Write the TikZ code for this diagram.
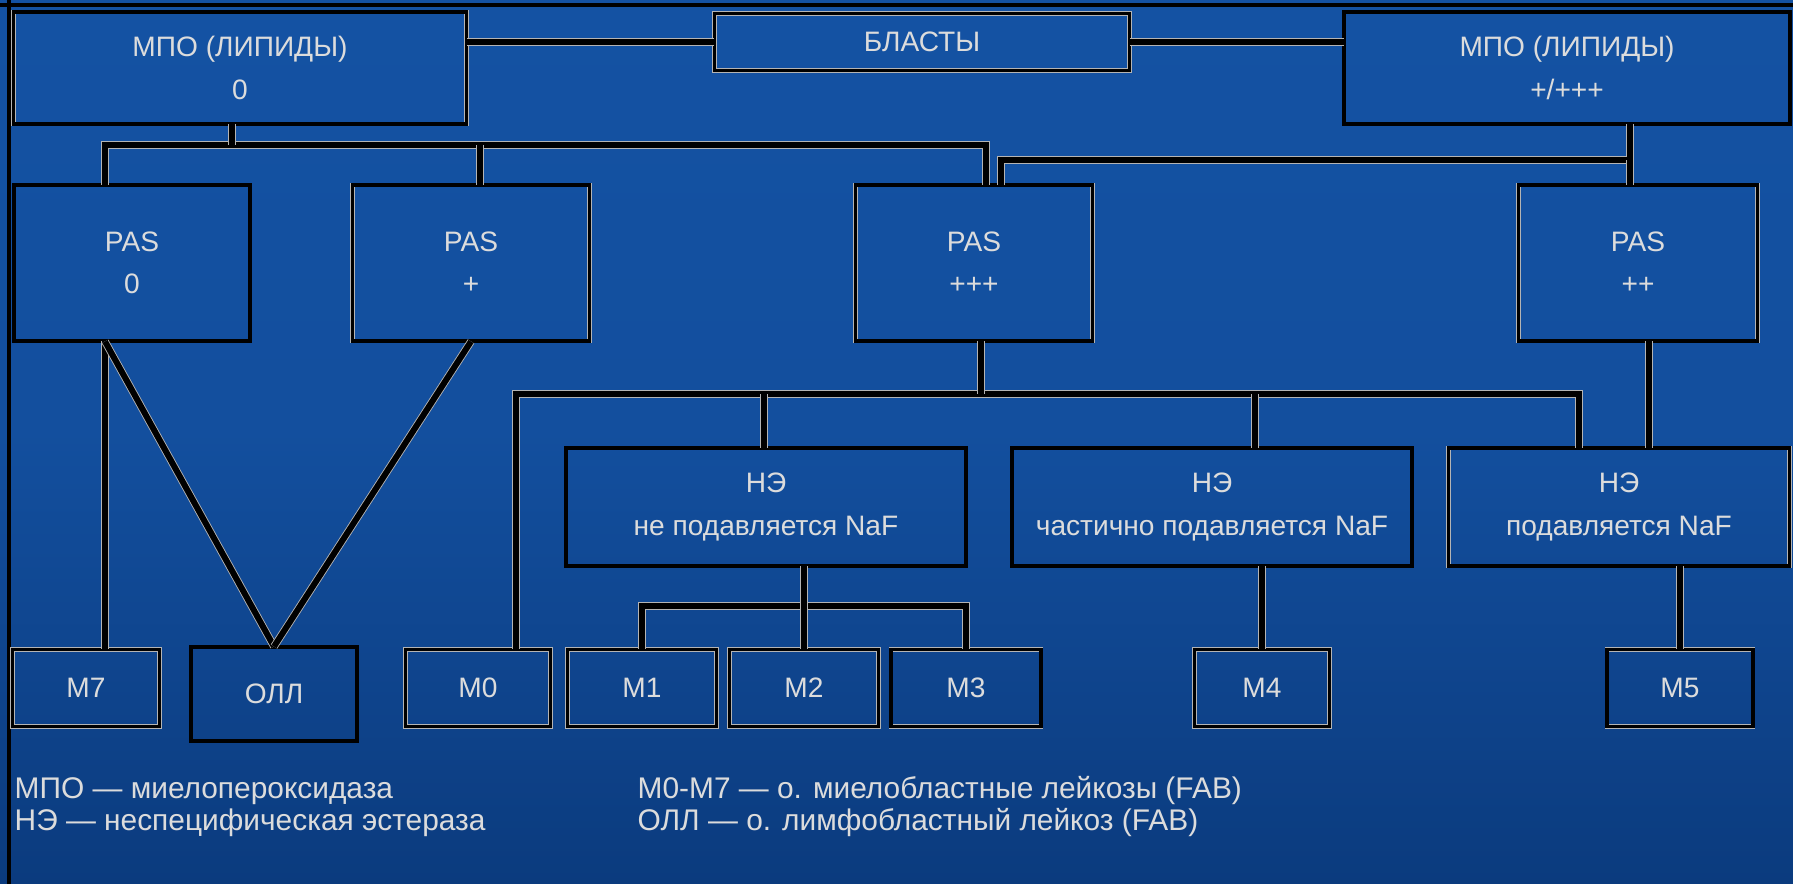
\documentclass[tikz,border=0pt]{standalone}
\usepackage{fontspec}
\setmainfont{Liberation Sans}
\usepackage{tikz}
\definecolor{SlideTop}{HTML}{1452A3}
\definecolor{SlideBottom}{HTML}{0B3B7E}
\definecolor{BoxText}{HTML}{DCDCDC}
\definecolor{EdgeLight}{HTML}{B4B4B4}

\begin{document}
\begin{tikzpicture}[
  box/.style={draw=EdgeLight, double=black, double distance=0.9pt, line width=0.25pt,
              inner sep=0pt, align=center, text=BoxText, font=\fontsize{8}{12}\selectfont},
  ln/.style={draw=EdgeLight, double=black, double distance=1.7pt, line width=0.25pt},
  lbl/.style={anchor=west, inner sep=0pt, text=BoxText, font=\fontsize{8.5}{10}\selectfont}]
\shade[top color=SlideTop, bottom color=SlideBottom, middle color=SlideTop!85!SlideBottom]
  (0,0) rectangle (17.93,8.84);
\useasboundingbox (0,0) rectangle (17.93,8.84);
\draw[black, line width=1pt] (0,8.79) -- (17.93,8.79);
\draw[black, line width=1pt] (0.09,0) -- (0.09,8.84);

\node[box, minimum width=4.53cm, minimum height=1.12cm] (mpoA) at (2.40,8.16) {МПО (ЛИПИДЫ)\\0};
\node[box, minimum width=4.15cm, minimum height=0.57cm] (blasts) at (9.22,8.42) {БЛАСТЫ};
\node[box, minimum width=4.46cm, minimum height=1.12cm] (mpoC) at (15.67,8.16) {МПО (ЛИПИДЫ)\\+/+++};
\draw[ln] (blasts.west) -- (blasts.west -| mpoA.east);
\draw[ln] (blasts.east) -- (blasts.east -| mpoC.west);

\node[box, minimum width=2.36cm, minimum height=1.56cm] (pas0) at (1.32,6.21) {PAS\\0};
\node[box, minimum width=2.37cm, minimum height=1.56cm] (pas1) at (4.71,6.21) {PAS\\+};
\node[box, minimum width=2.37cm, minimum height=1.56cm] (pas3) at (9.74,6.21) {PAS\\+++};
\node[box, minimum width=2.39cm, minimum height=1.56cm] (pas2) at (16.38,6.21) {PAS\\++};

\coordinate (b1a) at (1.05,7.39);
\coordinate (b1b) at (2.32,7.39);
\coordinate (b1c) at (4.80,7.39);
\coordinate (b1d) at (9.86,7.39);
\coordinate (b2a) at (10.01,7.24);
\coordinate (b2b) at (16.30,7.24);
\draw[ln] (b1a |- pas0.north) -- (b1a) -- (b1d) -- (b1d |- pas3.north);
\draw[ln] (b1b |- mpoA.south) -- (b1b);
\draw[ln] (b1c) -- (b1c |- pas1.north);
\draw[ln] (b2a |- pas3.north) -- (b2a) -- (b2b) -- (b2b |- mpoC.south);
\draw[ln] (b2b) -- (b2b |- pas2.north);

\node[box, minimum width=4.00cm, minimum height=1.18cm] (ne1) at (7.66,3.77) {НЭ\\не подавляется NaF};
\node[box, minimum width=4.00cm, minimum height=1.18cm] (ne2) at (12.12,3.77) {НЭ\\частично подавляется NaF};
\node[box, minimum width=3.41cm, minimum height=1.18cm] (ne3) at (16.19,3.77) {НЭ\\подавляется NaF};

\node[box, minimum width=1.47cm, minimum height=0.77cm] (m7) at (0.86,1.96) {M7};
\node[box, minimum width=1.66cm, minimum height=0.94cm] (oll) at (2.74,1.90) {ОЛЛ};
\node[box, minimum width=1.45cm, minimum height=0.77cm] (m0) at (4.78,1.96) {M0};
\node[box, minimum width=1.49cm, minimum height=0.77cm] (m1) at (6.42,1.96) {M1};
\node[box, minimum width=1.49cm, minimum height=0.77cm] (m2) at (8.04,1.96) {M2};
\node[box, minimum width=1.50cm, minimum height=0.77cm] (m3) at (9.66,1.96) {M3};
\node[box, minimum width=1.35cm, minimum height=0.77cm] (m4) at (12.62,1.96) {M4};
\node[box, minimum width=1.46cm, minimum height=0.77cm] (m5) at (16.80,1.96) {M5};

\coordinate (b3a) at (5.16,4.90);
\coordinate (b3b) at (7.64,4.90);
\coordinate (b3c) at (9.81,4.90);
\coordinate (b3d) at (12.55,4.90);
\coordinate (b3e) at (15.79,4.90);
\coordinate (v2) at (16.49,4.90);
\coordinate (b4) at (8.04,2.78);
\draw[ln] (b3a |- m0.north) -- (b3a) -- (b3e) -- (b3e |- ne3.north);
\draw[ln] (b3c |- pas3.south) -- (b3c);
\draw[ln] (b3b) -- (b3b |- ne1.north);
\draw[ln] (b3d) -- (b3d |- ne2.north);
\draw[ln] (v2 |- pas2.south) -- (v2 |- ne3.north);
\draw[ln] (m1.north) -- (m1.north |- b4) -- (m3.north |- b4) -- (m3.north);
\draw[ln] (b4 |- ne1.south) -- (m2.north);
\draw[ln] (ne2.south -| m4.north) -- (m4.north);
\draw[ln] (ne3.south -| m5.north) -- (m5.north);

\draw[ln] (b1a |- pas0.south) -- (b1a |- m7.north);
\draw[ln] (b1a |- pas0.south) -- (oll.north);
\draw[ln] (pas1.south) -- (oll.north);

\node[lbl] (leg1) at (0.14,0.93) {МПО — миелопероксидаза};
\node[lbl] (leg2) at (0.14,0.61) {НЭ — неспецифическая эстераза};
\node[lbl] (leg3) at (6.37,0.93) {М0-М7 — о. миелобластные лейкозы (FAB)};
\node[lbl] (leg4) at (6.37,0.61) {ОЛЛ — о. лимфобластный лейкоз (FAB)};
\end{tikzpicture}
\end{document}
